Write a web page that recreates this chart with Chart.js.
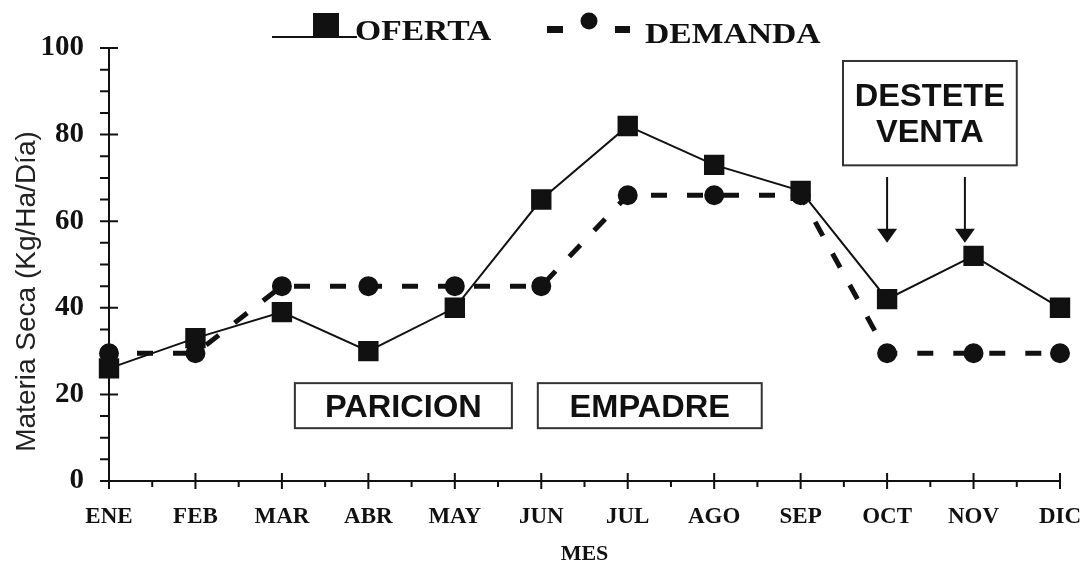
<!DOCTYPE html>
<html lang="es">
<head>
<meta charset="UTF-8">
<title>Oferta y demanda de materia seca</title>
<style>
  html, body { margin: 0; padding: 0; background: #fff; }
  #wrap { width: 1084px; height: 568px; }
</style>
</head>
<body>
<div id="wrap"><canvas id="chart"></canvas></div>
<script src="https://cdn.jsdelivr.net/npm/chart.js"></script>
<script>
// datos
const meses = ["ENE", "FEB", "MAR", "ABR", "MAY", "JUN", "JUL", "AGO", "SEP", "OCT", "NOV", "DIC"];
const oferta = [26, 33, 39, 30, 40, 65, 82, 73, 67, 42, 52, 40];
const demanda = [29.5, 29.5, 45, 45, 45, 45, 66, 66, 66, 29.5, 29.5, 29.5];
const yMin = 0, yMax = 100, yPaso = 20, yMenor = 5;

// cajas de texto en coordenadas del grafico (indice de mes, valor)
const cajas = [
  { lineas: ["PARICION"], x0: 2.15, x1: 4.66, y0: 22.6, y1: 12.2 },
  { lineas: ["EMPADRE"], x0: 4.96, x1: 7.55, y0: 22.6, y1: 12.2 },
  { lineas: ["DESTETE", "VENTA"], x0: 8.49, x1: 10.5, y0: 97, y1: 72.9 }
];
const flechas = [
  { x: 9, yDesde: 70.2, yHasta: 55 },
  { x: 9.9, yDesde: 70.2, yHasta: 55 }
];

const tinta = "#111";
const serif = "'Liberation Serif', 'Times New Roman', serif";
const sans = "'Liberation Sans', Arial, sans-serif";

function texto(ctx, str, x, y, font, sx, align) {
  ctx.save();
  ctx.font = font;
  ctx.textAlign = align;
  ctx.textBaseline = "alphabetic";
  ctx.translate(x, y);
  ctx.scale(sx, 1);
  ctx.fillText(str, 0, 0);
  ctx.restore();
}

const extras = {
  id: "extras",
  afterDraw(chart) {
    const { ctx, scales: { x, y }, chartArea } = chart;
    const ax = chartArea.left, ay = chartArea.bottom;
    ctx.save();
    ctx.strokeStyle = tinta;
    ctx.fillStyle = tinta;
    ctx.lineWidth = 2;

    // marcas del eje y
    ctx.beginPath();
    for (let v = yMin; v <= yMax; v += yMenor) {
      const py = y.getPixelForValue(v);
      ctx.moveTo(ax - 9, py);
      ctx.lineTo(v % yPaso === 0 ? ax + 9 : ax, py);
    }
    // marcas del eje x
    for (let i = 0; i < meses.length; i++) {
      const px = x.getPixelForValue(i);
      ctx.moveTo(px, ay - 8);
      ctx.lineTo(px, ay + 8);
      if (i < meses.length - 1) {
        const pm = (px + x.getPixelForValue(i + 1)) / 2;
        ctx.moveTo(pm, ay);
        ctx.lineTo(pm, ay + 6);
      }
    }
    ctx.stroke();

    // titulo eje y
    ctx.save();
    ctx.translate(27, (y.getPixelForValue(yMin) + y.getPixelForValue(yMax)) / 2 + 27);
    ctx.rotate(-Math.PI / 2);
    ctx.font = "28px " + sans;
    ctx.fillStyle = "#222";
    ctx.textAlign = "center";
    ctx.textBaseline = "middle";
    ctx.fillText("Materia Seca (Kg/Ha/Día)", 0, 0);
    ctx.restore();

    // cajas
    ctx.strokeStyle = "#333";
    cajas.forEach(c => {
      const l = x.getPixelForValue(c.x0), r = x.getPixelForValue(c.x1);
      const t = y.getPixelForValue(c.y0), b = y.getPixelForValue(c.y1);
      ctx.strokeRect(l, t, r - l, b - t);
      const cx = (l + r) / 2, cy = (t + b) / 2;
      const alto = 36;
      const base = cy + 11 - (c.lineas.length - 1) * alto / 2;
      c.lineas.forEach((s, k) => texto(ctx, s, cx, base + k * alto, "bold 31px " + sans, 1.05, "center"));
    });

    // flechas
    ctx.strokeStyle = tinta;
    flechas.forEach(f => {
      const px = x.getPixelForValue(f.x);
      const p0 = y.getPixelForValue(f.yDesde), p1 = y.getPixelForValue(f.yHasta);
      ctx.beginPath();
      ctx.moveTo(px, p0);
      ctx.lineTo(px, p1 - 10);
      ctx.stroke();
      ctx.beginPath();
      ctx.moveTo(px - 10, p1 - 14);
      ctx.lineTo(px + 10, p1 - 14);
      ctx.lineTo(px, p1);
      ctx.closePath();
      ctx.fill();
    });

    // leyenda
    ctx.beginPath();
    ctx.moveTo(272, 37);
    ctx.lineTo(357, 37);
    ctx.stroke();
    ctx.fillRect(313, 13, 26, 25);
    texto(ctx, "OFERTA", 355, 40, "bold 30px " + serif, 1.12, "left");

    ctx.fillRect(547, 26, 16, 7);
    ctx.beginPath();
    ctx.arc(589, 21, 8.5, 0, Math.PI * 2);
    ctx.fill();
    ctx.fillRect(615, 26, 15, 7);
    texto(ctx, "DEMANDA", 645, 43, "bold 30px " + serif, 1.12, "left");
    ctx.restore();
  }
};

new Chart(document.getElementById("chart"), {
  type: "line",
  data: {
    labels: meses,
    datasets: [
      {
        label: "DEMANDA",
        data: demanda,
        borderColor: tinta,
        backgroundColor: tinta,
        borderWidth: 5,
        borderDash: [16, 20],
        borderDashOffset: 8,
        pointStyle: "circle",
        pointRadius: 7.5,
        pointHoverRadius: 7.5,
        tension: 0
      },
      {
        label: "OFERTA",
        data: oferta,
        borderColor: tinta,
        backgroundColor: tinta,
        borderWidth: 2,
        pointStyle: "rect",
        pointRadius: 13,
        pointHoverRadius: 13,
        tension: 0
      }
    ]
  },
  options: {
    responsive: true,
    maintainAspectRatio: false,
    animation: false,
    events: [],
    layout: { padding: { top: 48, right: 24, bottom: 0, left: 0 } },
    plugins: {
      legend: { display: false },
      tooltip: { enabled: false }
    },
    scales: {
      x: {
        type: "category",
        offset: false,
        grid: { display: false },
        border: { display: true, color: tinta, width: 2 },
        ticks: {
          color: tinta,
          font: { family: serif, size: 23, weight: "bold" },
          padding: 14,
          maxRotation: 0,
          autoSkip: false
        },
        title: {
          display: true,
          text: "MES",
          color: tinta,
          font: { family: serif, size: 22, weight: "bold" },
          padding: { top: 0, bottom: 0 }
        },
        afterFit(s) {
          s.height = 87;
          s.paddingLeft = 0;
          s.paddingRight = 0;
        }
      },
      y: {
        min: yMin,
        max: yMax,
        grid: { display: false },
        border: { display: true, color: tinta, width: 2 },
        ticks: {
          stepSize: yPaso,
          color: tinta,
          font: { family: serif, size: 29, weight: "bold" },
          padding: 17
        },
        afterFit(s) { s.width = 109; }
      }
    }
  },
  plugins: [extras]
});
</script>
</body>
</html>
